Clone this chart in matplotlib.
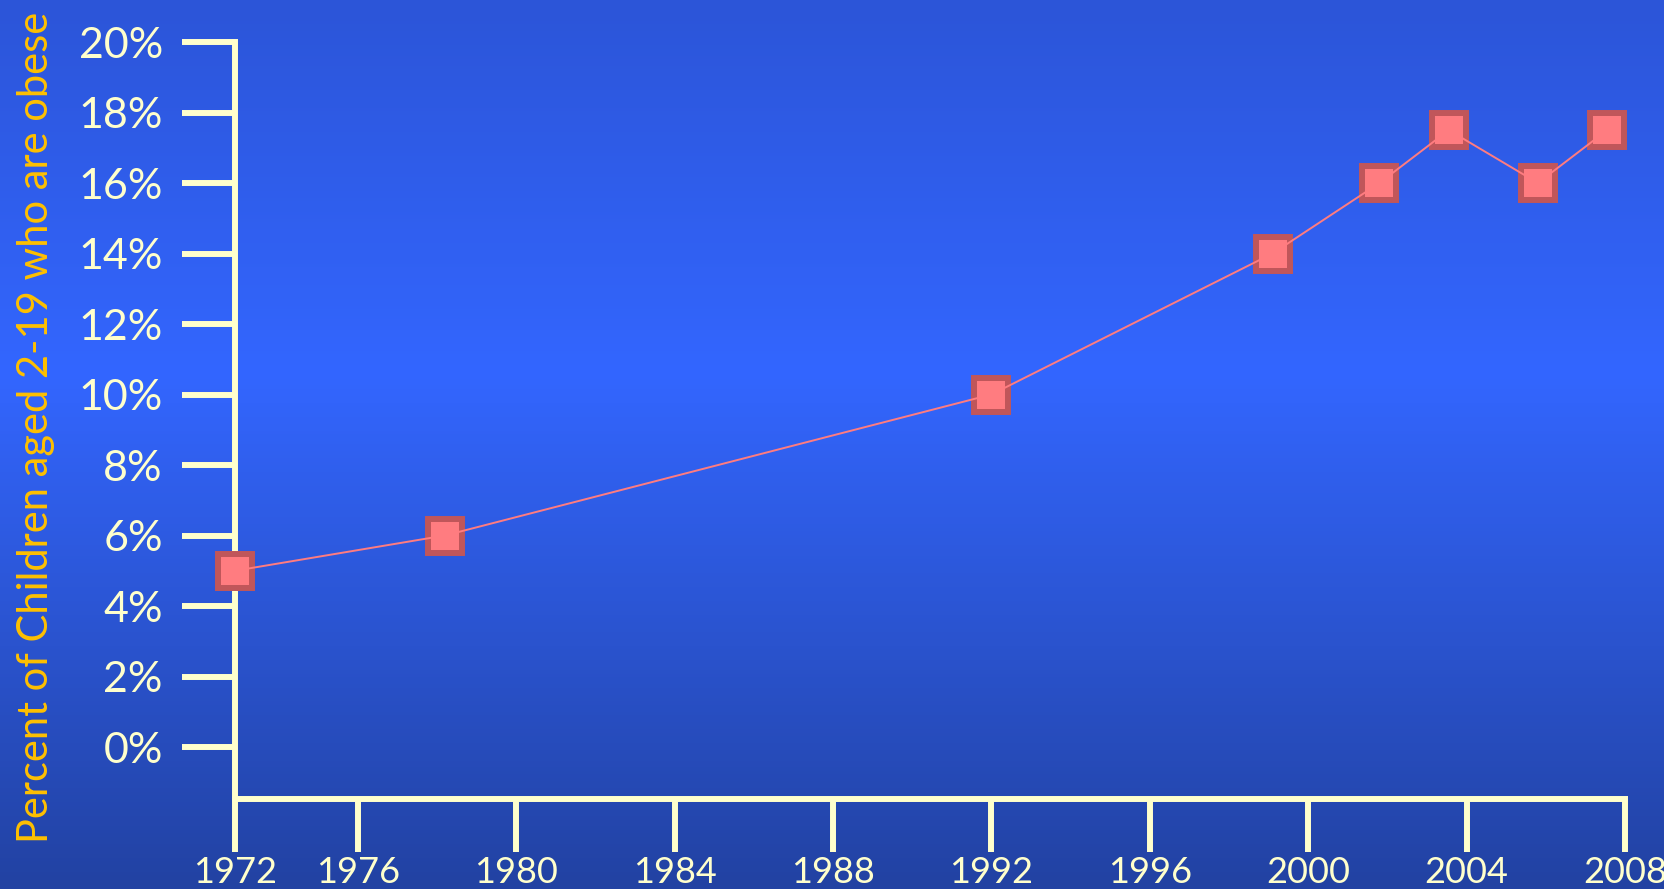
import numpy as np
import matplotlib.pyplot as plt
from matplotlib.colors import LinearSegmentedColormap

# survey periods (plotted at their mid positions) and obesity rate in %
years = [1972.9, 1978.2, 1992.0, 1999.1, 2001.8, 2003.55, 2005.8, 2007.55]
pct = [5.0, 6.0, 10.0, 14.0, 16.0, 17.5, 16.0, 17.5]

x_ticks = [1972.9, 1976, 1980, 1984, 1988, 1992, 1996, 2000, 2004, 2008]
x_labels = ['1972', '1976', '1980', '1984', '1988', '1992', '1996', '2000', '2004', '2008']
y_ticks = [0, 2, 4, 6, 8, 10, 12, 14, 16, 18, 20]
y_labels = [f'{v}%' for v in y_ticks]

cream = '#FFFFCC'
plt.rcParams['font.family'] = ['Lato', 'DejaVu Sans']

fig = plt.figure(figsize=(16.64, 8.89), dpi=100)

# background gradient: darker at top and bottom, bright in the middle
bg = fig.add_axes([0, 0, 1, 1], zorder=0)
cmap = LinearSegmentedColormap.from_list('bg', [(0, '#2C55D8'), (0.42, '#3366FF'), (1, '#2242A2')])
bg.imshow(np.linspace(0, 1, 256).reshape(-1, 1), aspect='auto', cmap=cmap, extent=[0, 1, 0, 1])
bg.set_axis_off()

ax = fig.add_axes([235/1664, 1 - 799/889, (1625 - 235)/1664, (799 - 42)/889], zorder=1)
ax.set_facecolor('none')

ax.plot(years, pct, linestyle='none', marker='s', markersize=25, markerfacecolor='#FF7C80',
        markeredgecolor='#C0565A', markeredgewidth=4.3, zorder=3, clip_on=False)
ax.plot(years, pct, color='#FF7C80', linewidth=1.4, zorder=4, clip_on=False)

ax.set_xlim(1972.9, 2008)
ax.set_ylim(-1.475, 20)

for s in ['top', 'right']:
    ax.spines[s].set_visible(False)
for s in ['left', 'bottom']:
    ax.spines[s].set_color(cream)
    ax.spines[s].set_linewidth(4.3)

ax.set_xticks(x_ticks)
ax.set_xticklabels(x_labels)
ax.set_yticks(y_ticks)
ax.set_yticklabels(y_labels)
ax.tick_params(axis='x', direction='out', length=38, width=4.3, color=cream,
               labelcolor=cream, labelsize=26, pad=3)
ax.tick_params(axis='y', direction='out', length=38, width=4.3, color=cream,
               labelcolor=cream, labelsize=31, pad=14)

fig.text(36/1664, 1 - 427/889, 'Percent of Children aged 2-19 who are obese', rotation=90,
         color='#FFC000', fontsize=30, ha='center', va='center')

fig.savefig('out.png', dpi=100)
